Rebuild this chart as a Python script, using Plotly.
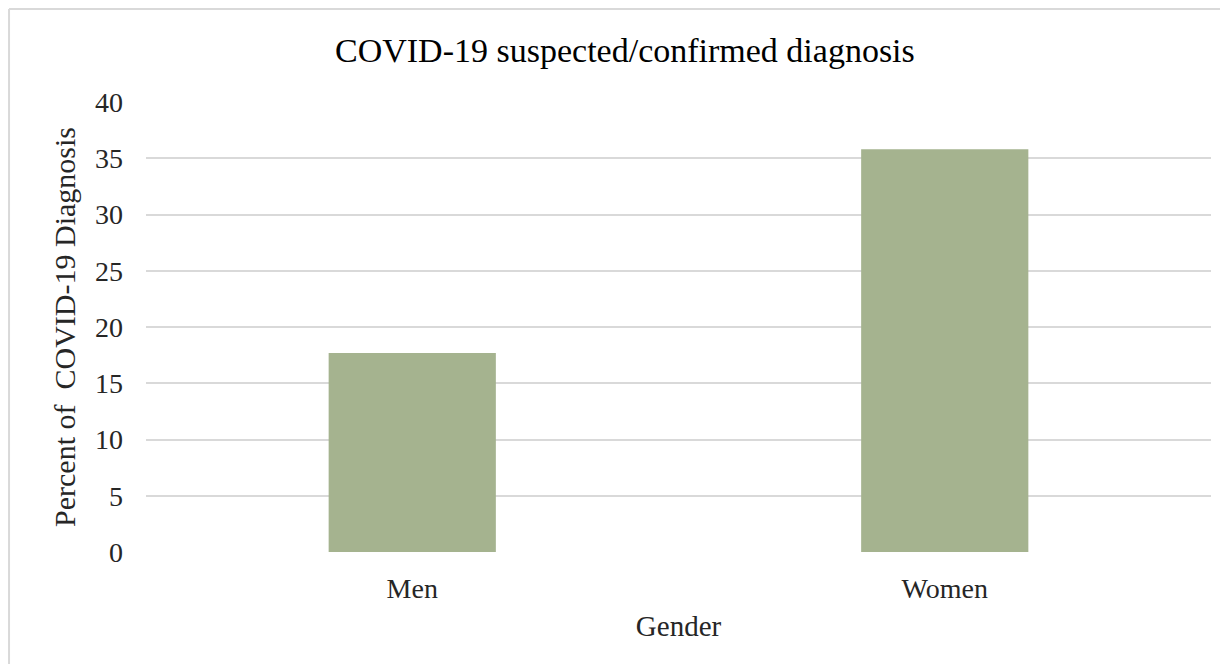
import plotly.graph_objects as go

# data
genders = ['Men', 'Women']
percent_diag = [17.7, 35.8]
y_ticks = [0, 5, 10, 15, 20, 25, 30, 35, 40]

bar_color = '#A5B38F'
grid_color = '#D9D9D9'
font_family = 'Liberation Serif'

# the page body has an 8px margin, so the figure is 16px smaller than the window
fig = go.Figure()
fig.add_trace(go.Bar(x=genders, y=percent_diag, marker_color=bar_color,
                     marker_line_width=0, width=0.314))

fig.update_layout(
    width=1212, height=656,
    paper_bgcolor='white', plot_bgcolor='white',
    margin=dict(l=138, r=9, t=94, b=112),
    font=dict(family=font_family, color='#262626'),
    showlegend=False,
    title=dict(text='COVID-19 suspected/confirmed diagnosis', x=0.509, xanchor='center',
               y=0.936, yanchor='middle', font=dict(size=34, color='#000000')),
)

fig.update_yaxes(range=[0, 40], tickvals=y_ticks, showgrid=True, gridcolor=grid_color,
                 gridwidth=2, zeroline=False, showline=False, ticks='',
                 ticklabelstandoff=22, tickfont=dict(size=28, color='#262626'),
                 title=dict(text='Percent of  COVID-19 Diagnosis', standoff=10,
                            font=dict(size=30, color='#262626')))
fig.update_xaxes(showgrid=False, zeroline=False, showline=False, ticks='',
                 ticklabelstandoff=17, tickfont=dict(size=28, color='#262626'),
                 title=dict(text='Gender', standoff=12, font=dict(size=29, color='#262626')))

# chart frame, only top and left edges are visible in the crop
frame_x0, frame_y1 = -0.1286, 1.2067
fig.add_shape(type='line', xref='paper', yref='paper', x0=frame_x0, y0=frame_y1, x1=1.01, y1=frame_y1,
              line=dict(color='#D9D9D9', width=2), layer='below')
fig.add_shape(type='line', xref='paper', yref='paper', x0=frame_x0, y0=frame_y1, x1=frame_x0, y1=-0.26,
              line=dict(color='#D9D9D9', width=2), layer='below')

fig.write_html('out.html')
